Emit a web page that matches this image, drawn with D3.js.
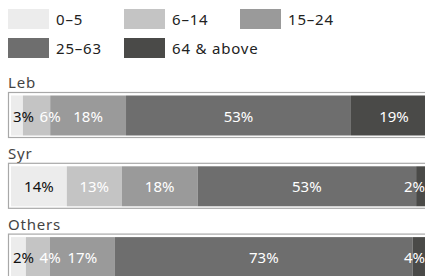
<!DOCTYPE html>
<html><head><meta charset="utf-8">
<script src="https://cdn.jsdelivr.net/npm/d3@7"></script>
<style>
html,body{margin:0;padding:0;background:#fff;}
svg{display:block;font-family:"Noto Sans",sans-serif;}
</style></head>
<body><svg id="chart" width="425" height="276"></svg>
<script>
// ---- data ----
const groups = ["Leb", "Syr", "Others"];
const ageGroups = ["0–5", "6–14", "15–24", "25–63", "64 & above"];
const lebValues = [2.8, 6.4, 17.8, 52.8, 20.2];
const syrValues = [13.1, 12.9, 17.8, 51.3, 4.9];
const othersValues = [3.5, 5.6, 15.3, 69.9, 5.7];
const lebLabels = ["3%", "6%", "18%", "53%", "19%"];
const syrLabels = ["14%", "13%", "18%", "53%", "2%"];
const othersLabels = ["2%", "4%", "17%", "73%", "4%"];

const rows = [
  {name: groups[0], values: lebValues, labels: lebLabels},
  {name: groups[1], values: syrValues, labels: syrLabels},
  {name: groups[2], values: othersValues, labels: othersLabels}
];

const W = 425;
const svg = d3.select("#chart");
const color = d3.scaleOrdinal().domain(ageGroups)
  .range(["#ececec", "#c4c4c4", "#9a9a9a", "#6e6e6e", "#4a4a48"]);
const labelColor = d3.scaleOrdinal().domain(ageGroups)
  .range(["#111", "#fff", "#fff", "#fff", "#fff"]);

// ---- legend ----
const legCol = d3.scalePoint().domain([0,1,2]).range([8, 240]);
const legRow = d3.scalePoint().domain([0,1]).range([9, 38]);
const leg = svg.append("g");
ageGroups.forEach((a, i) => {
  const c = i % 3, r = Math.floor(i / 3);
  const g = leg.append("g").attr("transform", `translate(${legCol(c)},${legRow(r)})`);
  g.append("rect").attr("width", 41).attr("height", 20).attr("fill", color(a));
  g.append("text").attr("x", 48).attr("y", 16).attr("font-size", 15)
    .attr("letter-spacing", 0.8).attr("fill", "#222").text(a);
});

// ---- rows ----
const y = d3.scaleBand().domain(groups).range([70, 70 + 3 * 70.8]);
const x = d3.scaleLinear().domain([0, 100]).range([11, 437]);

rows.forEach(row => {
  const top = y(row.name);
  const g = svg.append("g");
  g.append("text").attr("x", 8).attr("y", top + 18).attr("font-size", 15)
    .attr("letter-spacing", 0.8).attr("fill", "#444").text(row.name);
  g.append("rect").attr("x", 8.5).attr("y", top + 22.5)
    .attr("width", 440).attr("height", 45)
    .attr("fill", "#fff").attr("stroke", "#a8a8a8").attr("stroke-width", 1.2);
  const stack = d3.stack().keys(d3.range(row.values.length))([row.values]);
  const fy = top + 25.5, fh = 40;
  g.selectAll("rect.seg").data(stack).join("rect").attr("class", "seg")
    .attr("x", s => x(s[0][0])).attr("width", s => x(s[0][1]) - x(s[0][0]))
    .attr("y", fy).attr("height", fh)
    .attr("fill", (s, i) => color(ageGroups[i]));
  let prevRight = -Infinity;
  stack.forEach((s, i) => {
    const t = g.append("text").attr("font-size", 15)
      .attr("fill", labelColor(ageGroups[i])).attr("y", fy + fh / 2 + 6)
      .text(row.labels[i]);
    const w = t.node().getComputedTextLength();
    const c = (x(s[0][0]) + x(s[0][1])) / 2;
    let left = Math.max(c - w / 2, prevRight + 5.5, x(0) + 2);
    if (left + w > W) left = W - w;
    t.attr("x", left);
    prevRight = left + w;
  });
});
</script></body></html>
